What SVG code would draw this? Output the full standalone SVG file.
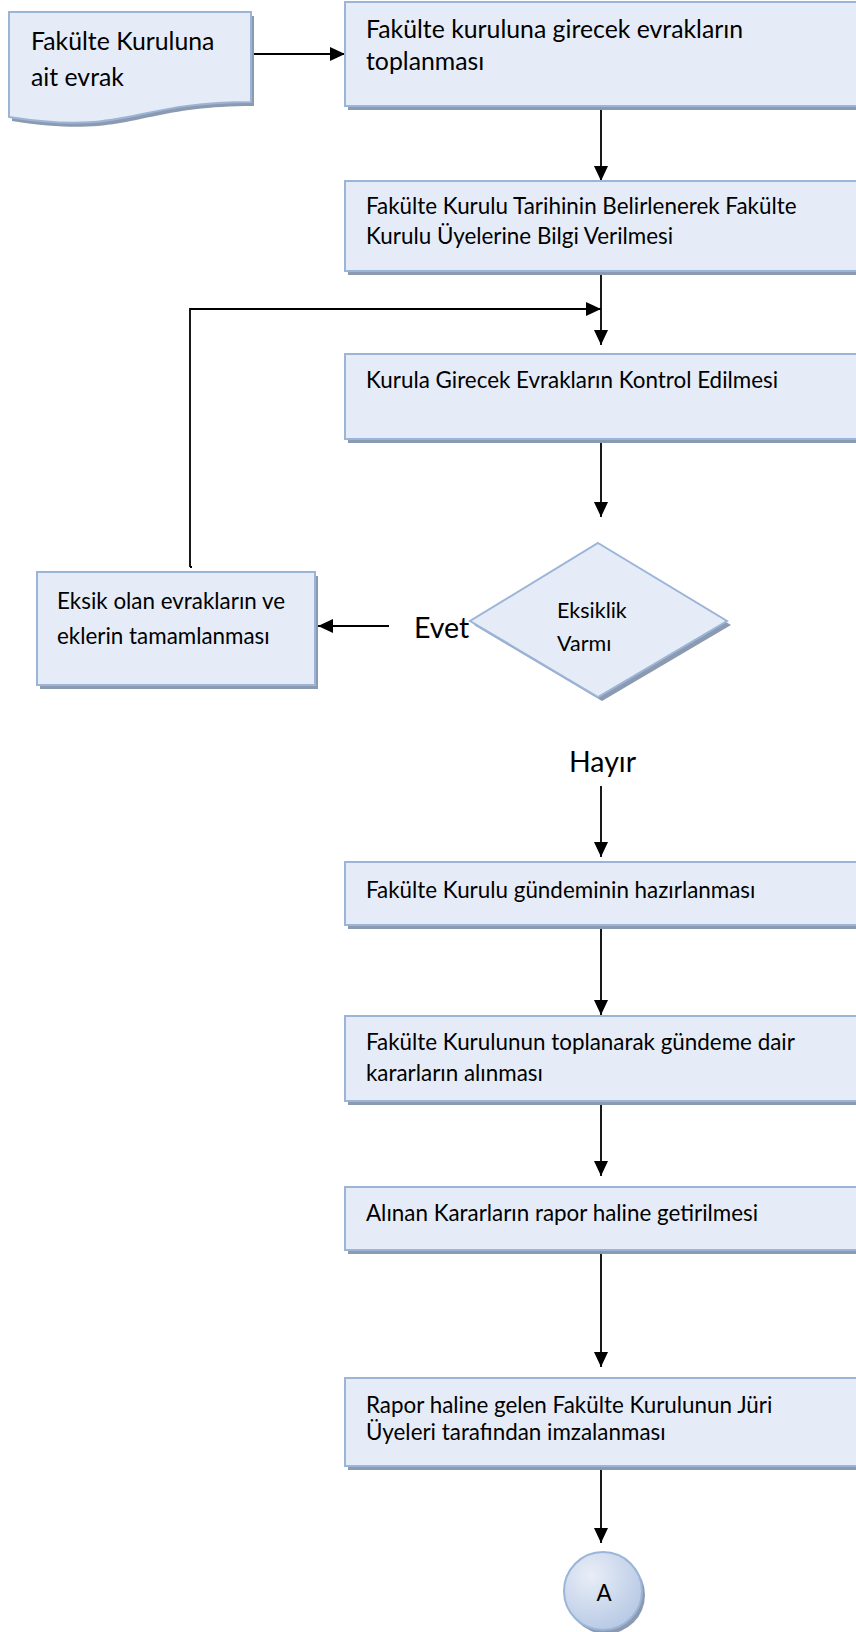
<svg xmlns="http://www.w3.org/2000/svg" width="856" height="1632" viewBox="0 0 856 1632">
<defs>
<marker id="ah" markerUnits="userSpaceOnUse" markerWidth="15" markerHeight="14" refX="15" refY="7" orient="auto"><path d="M0,0 L15,7 L0,14 z" fill="#000"/></marker>
<radialGradient id="cg" cx="0.35" cy="0.3" r="0.8"><stop offset="0" stop-color="#e9eef7"/><stop offset="1" stop-color="#b3c6e3"/></radialGradient>
</defs>
<style>
.sh{fill:#8c9ab0}
.bx{fill:#e5ecf7;stroke:#9bb5d9;stroke-width:2}
.t{font-family:Lato,"Liberation Sans",sans-serif;fill:#000;font-size:22.4px}
.td{font-size:21.5px}
.tl{font-size:24.8px}
.tx{font-size:28.5px}
.c{fill:none;stroke:#000;stroke-width:1.8}
</style>
<rect width="856" height="1632" fill="#fff"/>

<g id="connectors">
<path class="c" d="M251,54 H345" marker-end="url(#ah)"/>
<path class="c" d="M601,106 V181" marker-end="url(#ah)"/>
<path class="c" d="M601,271 V345" marker-end="url(#ah)"/>
<path class="c" d="M190,567 V309 H601" marker-end="url(#ah)"/>
<path class="c" d="M190,567 h2"/>
<path class="c" d="M601,439 V517" marker-end="url(#ah)"/>
<path class="c" d="M389,626 H318" marker-end="url(#ah)"/>
<path class="c" d="M601,786 V857" marker-end="url(#ah)"/>
<path class="c" d="M601,925 V1015" marker-end="url(#ah)"/>
<path class="c" d="M601,1101 V1176" marker-end="url(#ah)"/>
<path class="c" d="M601,1250 V1367" marker-end="url(#ah)"/>
<path class="c" d="M601,1466 V1543" marker-end="url(#ah)"/>
</g>

<g id="n-doc">
<path class="sh" d="M12,16 H254 V106 C133,106 133,140 12,121 Z"/>
<path class="bx" d="M9,12 H251 V102 C130,102 130,136 9,117 Z"/>
<text class="t tl" x="31" y="50">Fakülte Kuruluna</text>
<text class="t tl" x="31" y="86">ait evrak</text>
</g>

<g id="n-toplanmasi">
<rect class="sh" x="348" y="6" width="530" height="104"/>
<rect class="bx" x="345" y="2" width="530" height="104"/>
<text class="t tl" x="366" y="38">Fakülte kuruluna girecek evrakların</text>
<text class="t tl" x="366" y="70">toplanması</text>
</g>

<g id="n-tarih">
<rect class="sh" x="348" y="185" width="530" height="90"/>
<rect class="bx" x="345" y="181" width="530" height="90"/>
<text class="t" x="366" y="214">Fakülte Kurulu Tarihinin Belirlenerek Fakülte</text>
<text class="t" x="366" y="244">Kurulu Üyelerine Bilgi Verilmesi</text>
</g>

<g id="n-kontrol">
<rect class="sh" x="348" y="358" width="530" height="85"/>
<rect class="bx" x="345" y="354" width="530" height="85"/>
<text class="t" x="366" y="388">Kurula Girecek Evrakların Kontrol Edilmesi</text>
</g>

<g id="n-eksik">
<rect class="sh" x="40" y="576" width="278" height="113"/>
<rect class="bx" x="37" y="572" width="278" height="113"/>
<text class="t" x="57" y="609">Eksik olan evrakların ve</text>
<text class="t" x="57" y="644">eklerin tamamlanması</text>
</g>

<g id="n-karar">
<path class="sh" d="M602,547 L731,625 L602,701 L474,625 Z"/>
<path class="bx" d="M598,543 L727,621 L598,697 L470,621 Z"/>
<text class="t td" x="557" y="618">Eksiklik</text>
<text class="t td" x="557" y="651">Varmı</text>
</g>

<g id="labels">
<text class="t tx" x="414" y="638">Evet</text>
<text class="t tx" x="569" y="772">Hayır</text>
</g>

<g id="n-gundem">
<rect class="sh" x="348" y="866" width="530" height="63"/>
<rect class="bx" x="345" y="862" width="530" height="63"/>
<text class="t" x="366" y="898">Fakülte Kurulu gündeminin hazırlanması</text>
</g>

<g id="n-toplanti">
<rect class="sh" x="348" y="1020" width="530" height="85"/>
<rect class="bx" x="345" y="1016" width="530" height="85"/>
<text class="t" x="366" y="1050">Fakülte Kurulunun toplanarak gündeme dair</text>
<text class="t" x="366" y="1081">kararların alınması</text>
</g>

<g id="n-rapor">
<rect class="sh" x="348" y="1191" width="530" height="63"/>
<rect class="bx" x="345" y="1187" width="530" height="63"/>
<text class="t" x="366" y="1221">Alınan Kararların rapor haline getirilmesi</text>
</g>

<g id="n-imza">
<rect class="sh" x="348" y="1382" width="530" height="88"/>
<rect class="bx" x="345" y="1378" width="530" height="88"/>
<text class="t" x="366" y="1413">Rapor haline gelen Fakülte Kurulunun Jüri</text>
<text class="t" x="366" y="1440">Üyeleri tarafından imzalanması</text>
</g>

<g id="n-A">
<circle cx="606" cy="1595" r="39" fill="#8c9ab0"/>
<circle cx="603" cy="1591" r="39" fill="url(#cg)" stroke="#9bb5d9" stroke-width="2"/>
<text class="t" x="604" y="1601" text-anchor="middle" font-size="28px">A</text>
</g>
</svg>
